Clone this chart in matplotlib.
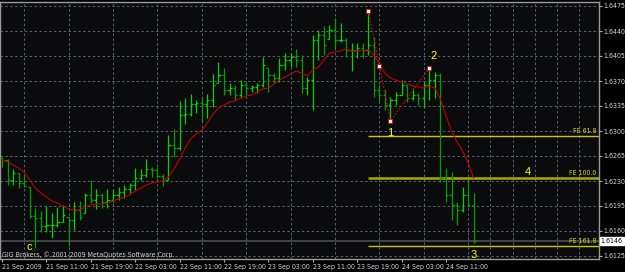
import matplotlib
matplotlib.use("Agg")
import matplotlib.pyplot as plt
import matplotlib.transforms as mtransforms
from matplotlib.ticker import FixedLocator, MultipleLocator
from matplotlib import font_manager

# ---------------- data (GBP/USD-like H1 bars, 21-24 Sep 2009) ----------------
opens = [1.6262, 1.62594, 1.62314, 1.62412, 1.62272, 1.62216, 1.6181, 1.61782, 1.6167, 1.61684,
         1.61684, 1.61726, 1.61796, 1.61754, 1.61894, 1.61852, 1.62104, 1.62034, 1.62104, 1.62006,
         1.62034, 1.62104, 1.62146, 1.62188, 1.62244, 1.62342, 1.62384, 1.62468, 1.62454, 1.6237,
         1.62314, 1.62804, 1.62762, 1.63224, 1.63238, 1.63378, 1.63392, 1.63378, 1.63434, 1.63672,
         1.63784, 1.63574, 1.63602, 1.63504, 1.63644, 1.63602, 1.63616, 1.63644, 1.63882, 1.63784,
         1.63742, 1.63924, 1.63994, 1.64036, 1.63994, 1.63602, 1.63714, 1.64274, 1.64344, 1.64288,
         1.64414, 1.64274, 1.64274, 1.64134, 1.64134, 1.64162, 1.64134, 1.64204, 1.63574, 1.63504,
         1.63364, 1.63434, 1.63504, 1.63644, 1.63462, 1.63504, 1.63462, 1.63644, 1.63714, 1.63784,
         1.62342, 1.62104, 1.61964, 1.61894, 1.62104, 1.61964]
highs = [1.62636, 1.62608, 1.62468, 1.62412, 1.62384, 1.62216, 1.61922, 1.6188, 1.6195, 1.61852,
         1.61936, 1.61964, 1.61796, 1.62006, 1.6202, 1.62132, 1.62314, 1.62188, 1.62132, 1.62188,
         1.62174, 1.62216, 1.62244, 1.62272, 1.62482, 1.62468, 1.62608, 1.62496, 1.62496, 1.62398,
         1.62944, 1.63028, 1.6342, 1.63462, 1.63518, 1.63434, 1.63476, 1.63518, 1.63798, 1.63966,
         1.63882, 1.63672, 1.63644, 1.63714, 1.637, 1.63644, 1.63672, 1.64036, 1.63882, 1.63812,
         1.64022, 1.64092, 1.64092, 1.64148, 1.64064, 1.63756, 1.64344, 1.64414, 1.6447, 1.64484,
         1.64582, 1.64512, 1.64302, 1.64232, 1.64232, 1.64232, 1.6468, 1.64316, 1.63644, 1.63574,
         1.63476, 1.63546, 1.63714, 1.63644, 1.63602, 1.63532, 1.63686, 1.63882, 1.63826, 1.63812,
         1.62482, 1.62426, 1.62006, 1.62216, 1.62314, 1.62132]
lows = [1.62496, 1.62244, 1.62244, 1.62202, 1.62216, 1.61782, 1.61362, 1.61586, 1.61586, 1.61502,
        1.61656, 1.61726, 1.6139, 1.61614, 1.61754, 1.61852, 1.61992, 1.61908, 1.61922, 1.61922,
        1.62006, 1.62034, 1.62062, 1.62132, 1.62174, 1.62314, 1.62356, 1.62356, 1.62342, 1.6223,
        1.62314, 1.62636, 1.62734, 1.63098, 1.6321, 1.63252, 1.63126, 1.63182, 1.63336, 1.63672,
        1.63504, 1.63504, 1.63434, 1.63462, 1.63504, 1.63546, 1.63532, 1.63616, 1.63546, 1.63672,
        1.63686, 1.63854, 1.63896, 1.63896, 1.63532, 1.63504, 1.63294, 1.63994, 1.64064, 1.64288,
        1.64162, 1.64246, 1.64036, 1.6384, 1.64022, 1.64022, 1.64064, 1.63476, 1.63406, 1.63294,
        1.63154, 1.63364, 1.63504, 1.63406, 1.63434, 1.63364, 1.63336, 1.63434, 1.63462, 1.62286,
        1.62006, 1.61754, 1.61684, 1.61866, 1.61936, 1.61432]
closes = [1.62594, 1.62314, 1.62412, 1.62272, 1.6223, 1.6181, 1.61782, 1.6167, 1.61684, 1.61684,
          1.61726, 1.61824, 1.61754, 1.61894, 1.61796, 1.62104, 1.62034, 1.62104, 1.62006, 1.62034,
          1.62104, 1.62146, 1.62188, 1.62244, 1.62342, 1.62384, 1.62468, 1.62454, 1.6237, 1.62314,
          1.62804, 1.62762, 1.63224, 1.63238, 1.63378, 1.63392, 1.63378, 1.63434, 1.63644, 1.63784,
          1.63574, 1.63602, 1.63504, 1.63644, 1.63602, 1.63616, 1.63644, 1.63924, 1.63784, 1.63742,
          1.63924, 1.63994, 1.64036, 1.63994, 1.63602, 1.63714, 1.64274, 1.64344, 1.64204, 1.64414,
          1.64274, 1.64274, 1.64134, 1.64134, 1.64162, 1.64134, 1.64204, 1.63574, 1.63504, 1.63364,
          1.63434, 1.63504, 1.63644, 1.63462, 1.63504, 1.63462, 1.63644, 1.63714, 1.63784, 1.62342,
          1.62104, 1.61964, 1.61894, 1.62104, 1.61964, 1.6146]
moving_avg = [1.62594, 1.62566, 1.62524, 1.62482, 1.62426, 1.62314, 1.62202, 1.62132, 1.62076, 1.6202,
              1.61992, 1.6195, 1.61908, 1.61894, 1.61894, 1.61936, 1.61964, 1.61978, 1.61978, 1.61992,
              1.6202, 1.62048, 1.62076, 1.62104, 1.6216, 1.62202, 1.62244, 1.62272, 1.62286, 1.623,
              1.62356, 1.62468, 1.62608, 1.62762, 1.62888, 1.62958, 1.63014, 1.63112, 1.63238, 1.63322,
              1.63364, 1.63406, 1.6342, 1.63462, 1.6349, 1.63504, 1.63546, 1.63588, 1.63602, 1.63658,
              1.63714, 1.63756, 1.63798, 1.6384, 1.63812, 1.6377, 1.63854, 1.63896, 1.63994, 1.64092,
              1.64106, 1.6412, 1.64148, 1.6412, 1.6412, 1.64134, 1.64134, 1.64064, 1.63938, 1.63812,
              1.63742, 1.63714, 1.63686, 1.63658, 1.6363, 1.63616, 1.63602, 1.6363, 1.63602, 1.63448,
              1.6321, 1.63, 1.62846, 1.6272, 1.62552, 1.62342]

# zigzag / pattern points (bar index, price)
zz_bars = [66, 68, 70, 77]
zz_prices = [1.6468, 1.6391, 1.6314, 1.6388]

# Fibonacci expansion levels
fe_names = ["FE 61.8", "FE 100.0", "FE 161.8"]
fe_levels = [1.6293, 1.6234, 1.6139]
fe_start_bar = 66

# wave labels
wave_text = ["c", "1", "2", "3", "4"]
wave_x = [4.9, 70.0, 77.7, 85.0, 94.7]
wave_y = [1.6138, 1.6297, 1.6405, 1.6126, 1.6242]

bid_price = 1.6146

y_ticks = [1.6475, 1.6440, 1.6405, 1.6370, 1.6335, 1.6300, 1.6265, 1.6230, 1.6195, 1.6160, 1.6125]
x_tick_bars = [0, 8, 16, 24, 32, 40, 48, 56, 64, 72, 80]
x_tick_labels = ["21 Sep 2009", "21 Sep 11:00", "21 Sep 19:00", "22 Sep 03:00", "22 Sep 11:00",
                 "22 Sep 19:00", "23 Sep 03:00", "23 Sep 11:00", "23 Sep 19:00", "24 Sep 03:00",
                 "24 Sep 11:00"]

# ---------------- fonts ----------------
names = {f.name for f in font_manager.fontManager.ttflist}
small_stretch = "normal"
if "Liberation Sans Narrow" in names:
    small_family = ["Liberation Sans Narrow", "DejaVu Sans"]
elif any(f.name == "DejaVu Sans" and "Condensed" in f.fname for f in font_manager.fontManager.ttflist):
    small_stretch = "condensed"
    small_family = ["DejaVu Sans"]
else:
    small_family = ["Liberation Sans", "DejaVu Sans"]
plt.rcParams["font.family"] = small_family
plt.rcParams["font.stretch"] = small_stretch
SMALL = 5.0

W, H = 625, 272
fig = plt.figure(figsize=(W / 100, H / 100), dpi=100, facecolor="black")
ax = fig.add_axes([0.0 / W, 13 / H, 599 / W, 257 / H])
ax.set_facecolor("#0b0b0d")

n = len(closes)
idx = list(range(n))
up_col, dn_col = "#00d400", "#00a000"
cols = [up_col if c >= o else dn_col for o, c in zip(opens, closes)]
tick_w = 0.38
ax.vlines(idx, lows, highs, colors=cols, linewidth=0.9, zorder=3)
ax.hlines(opens, [i - tick_w for i in idx], idx, colors=cols, linewidth=0.9, zorder=3)
ax.hlines(closes, idx, [i + tick_w for i in idx], colors=cols, linewidth=0.9, zorder=3)

# moving average
ax.plot(idx, moving_avg, color="#c00000", linewidth=0.8, zorder=4)

# bid line
ax.axhline(bid_price, color="#4a4f55", linewidth=1.2, zorder=1)

# FE levels
for name, lev in zip(fe_names, fe_levels):
    lw = 1.8 if name == "FE 100.0" else 1.0
    col = "#a8a800" if name == "FE 100.0" else "#c8c800"
    ax.hlines(lev, fe_start_bar, 200, colors=col, linewidth=lw, zorder=2)
    ax.annotate(name, xy=(0.995, lev), xycoords=("axes fraction", "data"),
                xytext=(0, 1.5), textcoords="offset points", ha="right", va="bottom",
                color="#e0e000", fontsize=SMALL, zorder=6)

# zigzag dotted line + markers
ax.plot(zz_bars, zz_prices, color="#e00000", linewidth=0.8, linestyle=(0, (1.5, 1.5)), zorder=5)
ax.plot(zz_bars, zz_prices, linestyle="none", marker="s", markersize=2.8,
        markerfacecolor="white", markeredgecolor="#e00000", markeredgewidth=0.6, zorder=6)

# wave labels
for t, x, y in zip(wave_text, wave_x, wave_y):
    ax.text(x, y, t, color="#ffff00", fontsize=8, ha="center", va="center", zorder=7,
            family=["Liberation Sans", "DejaVu Sans"], stretch="normal")

# copyright
ax.text(0.004, 0.002, "GIG Brokers, \u00a9 2001-2009 MetaQuotes Software Corp.",
        transform=ax.transAxes, color="#d0d0d0", fontsize=SMALL, ha="left", va="bottom", zorder=7)

# axes limits
ax.set_xlim(-0.36, 107.57)
ax.set_ylim(1.61208, 1.64806)

# y axis on right
ax.yaxis.tick_right()
ax.yaxis.set_major_locator(FixedLocator(y_ticks))
ax.set_yticklabels([f"{v:.4f}" for v in y_ticks])
ax.tick_params(axis="y", which="major", colors="#b0b0b0", labelcolor="#d8d8d8",
               length=2, width=0.8, pad=1.0, labelsize=SMALL, direction="out")

# x axis
ax.xaxis.set_major_locator(FixedLocator(x_tick_bars))
ax.set_xticklabels(x_tick_labels, ha="left")
ax.tick_params(axis="x", which="major", colors="#b0b0b0", labelcolor="#d8d8d8",
               length=2, width=0.8, pad=1.5, labelsize=SMALL, direction="out")
ax.xaxis.set_minor_locator(MultipleLocator(4))
ax.tick_params(axis="x", which="minor", length=0)

# grid
ax.grid(True, axis="y", which="major", color="#5a6470", linewidth=0.7, linestyle=(0, (2.5, 2.5)), zorder=0)
ax.grid(True, axis="x", which="minor", color="#5a6470", linewidth=0.7, linestyle=(0, (2.5, 2.5)), zorder=0)
ax.set_axisbelow(True)

for s in ax.spines.values():
    s.set_color("#9a9a9a")
    s.set_linewidth(1.0)

# bid price box
trans = mtransforms.blended_transform_factory(ax.transAxes, ax.transData)
ax.text(1.003, bid_price, f"{bid_price:.4f}", transform=trans, ha="left", va="center",
        fontsize=SMALL, color="black", zorder=8, clip_on=False,
        bbox=dict(boxstyle="square,pad=0.12", facecolor="white", edgecolor="white"))

fig.savefig("out.png", dpi=100, facecolor="black")
